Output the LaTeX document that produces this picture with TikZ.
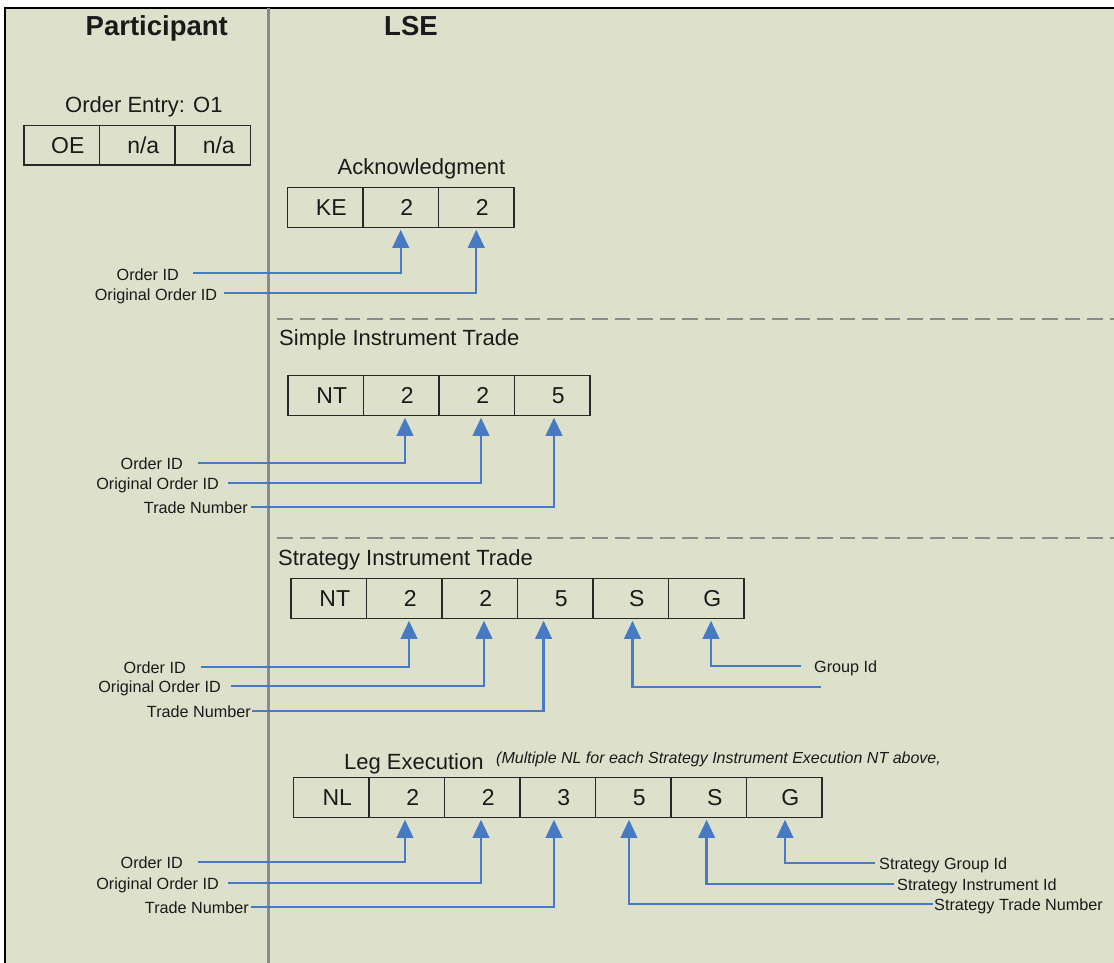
\documentclass[tikz,border=0pt]{standalone}
\usepackage{fontspec}
\setmainfont{Liberation Sans}
\usetikzlibrary{arrows.meta,positioning}

\definecolor{panel}{RGB}{221,225,203}
\definecolor{flow}{RGB}{72,122,196}
\definecolor{rulegray}{RGB}{138,138,138}
\definecolor{ink}{RGB}{26,26,26}
\definecolor{celledge}{RGB}{40,40,40}

\tikzset{
  cell/.style={draw=celledge, line width=1.3pt, outer sep=0pt, inner sep=0pt,
    minimum width=75.5pt, minimum height=39.5pt, text=ink,
    font=\fontsize{23}{25}\selectfont, execute at begin node={\hspace*{12pt}}},
  lane/.style={font=\bfseries\fontsize{27.5}{30}\selectfont, text=ink, inner sep=0pt, anchor=base west},
  heading/.style={font=\fontsize{22}{24}\selectfont, text=ink, inner sep=0pt, anchor=base west},
  note/.style={font=\itshape\fontsize{16}{18}\selectfont, text=ink, inner sep=0pt, anchor=base west},
  field/.style={font=\fontsize{16.2}{18}\selectfont, text=ink, inner sep=0pt,
    text height=13.7pt, text depth=0pt},
  fieldL/.style={field, anchor=east},
  fieldR/.style={field, anchor=west},
  conn/.style={draw=flow, line width=2.3pt, -{Triangle[width=16.5pt,length=18pt]}, shorten >=2.5pt},
  sectionrule/.style={draw=rulegray, line width=2pt, dash pattern=on 15.5pt off 7pt},
}

\begin{document}
\begin{tikzpicture}[x=1pt,y=-1pt]
\useasboundingbox (0,0) rectangle (1114,963);

% panel and lane frame
\fill[white] (0,0) rectangle (1114,963);
\fill[panel] (5,8) rectangle (1114,963);
\draw[black, line width=1.5pt] (5,963) -- (5,8) -- (1114,8);
\draw[rulegray, line width=2.5pt] (268.5,8) -- (268.5,963);

% section separators
\draw[sectionrule] (277,319.3) -- (1114,319.3);
\draw[sectionrule] (277,538) -- (1114,538);

% lane titles
\node[lane] (tpart) at (85.5,36) {Participant};
\node[lane] (tlse) at (384,36) {LSE};

% order entry message
\node[heading] (hoe) at (65,112.3) {Order Entry: O1};
\node[cell] (oe1) at (61.75,145.3) {OE};
\node[cell, right=0pt of oe1] (oe2) {n/a};
\node[cell, right=0pt of oe2] (oe3) {n/a};

% acknowledgment
\node[heading] (hke) at (337.5,174.3) {Acknowledgment};
\node[cell] (ke1) at (325.25,207.5) {KE};
\node[cell, right=0pt of ke1] (ke2) {2};
\node[cell, right=0pt of ke2] (ke3) {2};

\node[fieldL] (keoid) at (179,273.3) {Order ID};
\node[fieldL] (keorig) at (217.4,293.3) {Original Order ID};
\draw[conn] ([xshift=14pt]keoid.east) -| (ke2.south);
\draw[conn] ([xshift=6.6pt]keorig.east) -| (ke3.south);

% simple instrument trade
\node[heading] (hnt) at (279,345) {Simple Instrument Trade};
\node[cell] (nt1) at (325.75,395.5) {NT};
\node[cell, right=0pt of nt1] (nt2) {2};
\node[cell, right=0pt of nt2] (nt3) {2};
\node[cell, right=0pt of nt3] (nt4) {5};

\node[fieldL] (ntoid) at (183,463) {Order ID};
\node[fieldL] (ntorig) at (219,483) {Original Order ID};
\node[fieldL] (nttrd) at (248,507) {Trade Number};
\draw[conn] ([xshift=15pt]ntoid.east) -| ([xshift=3.75pt]nt2.south);
\draw[conn] ([xshift=9pt]ntorig.east) -| ([xshift=4.25pt]nt3.south);
\draw[conn] ([xshift=3pt]nttrd.east) -| ([xshift=1.75pt]nt4.south);

% strategy instrument trade
\node[heading] (hst) at (278,565) {Strategy Instrument Trade};
\node[cell] (st1) at (328.75,598.5) {NT};
\node[cell, right=0pt of st1] (st2) {2};
\node[cell, right=0pt of st2] (st3) {2};
\node[cell, right=0pt of st3] (st4) {5};
\node[cell, right=0pt of st4] (st5) {S};
\node[cell, right=0pt of st5] (st6) {G};

\node[fieldL] (stoid) at (186,667) {Order ID};
\node[fieldL] (storig) at (221,686) {Original Order ID};
\node[fieldL] (sttrd) at (251,711) {Trade Number};
\node[fieldR] (stgrp) at (814,666) {Group Id};
\coordinate (stinst) at (820.5,687);
\draw[conn] ([xshift=15pt]stoid.east) -| ([xshift=4.75pt]st2.south);
\draw[conn] ([xshift=10pt]storig.east) -| ([xshift=4.25pt]st3.south);
\draw[conn] ([xshift=1pt]sttrd.east) -| ([xshift=-11.65pt]st4.south);
\draw[conn] (stinst) -| ([xshift=1.75pt]st5.south);
\draw[conn] ([xshift=-13pt]stgrp.west) -| ([xshift=4.75pt]st6.south);

% leg execution
\node[heading] (hnl) at (344,769) {Leg Execution};
\node[note] (nnl) at (496,763.3) {(Multiple NL for each Strategy Instrument Execution NT above,};
\node[cell] (nl1) at (331.25,797.5) {NL};
\node[cell, right=0pt of nl1] (nl2) {2};
\node[cell, right=0pt of nl2] (nl3) {2};
\node[cell, right=0pt of nl3] (nl4) {3};
\node[cell, right=0pt of nl4] (nl5) {5};
\node[cell, right=0pt of nl5] (nl6) {S};
\node[cell, right=0pt of nl6] (nl7) {G};

\node[fieldL] (nloid) at (183,862) {Order ID};
\node[fieldL] (nlorig) at (219,883) {Original Order ID};
\node[fieldL] (nltrd) at (249,907) {Trade Number};
\node[fieldR] (nlgrp) at (879,863) {Strategy Group Id};
\node[fieldR] (nlinst) at (897,884) {Strategy Instrument Id};
\node[fieldR] (nlstrd) at (934,904) {Strategy Trade Number};
\draw[conn] ([xshift=15pt]nloid.east) -| ([xshift=-1.75pt]nl2.south);
\draw[conn] ([xshift=9pt]nlorig.east) -| ([xshift=-1.25pt]nl3.south);
\draw[conn] ([xshift=2pt]nltrd.east) -| ([xshift=-3.75pt]nl4.south);
\draw[conn] ([xshift=-1pt]nlstrd.west) -| ([xshift=-4.25pt]nl5.south);
\draw[conn] ([xshift=-3pt]nlinst.west) -| ([xshift=-2.15pt]nl6.south);
\draw[conn] ([xshift=-4.5pt]nlgrp.west) -| ([xshift=0.75pt]nl7.south);
\end{tikzpicture}
\end{document}
